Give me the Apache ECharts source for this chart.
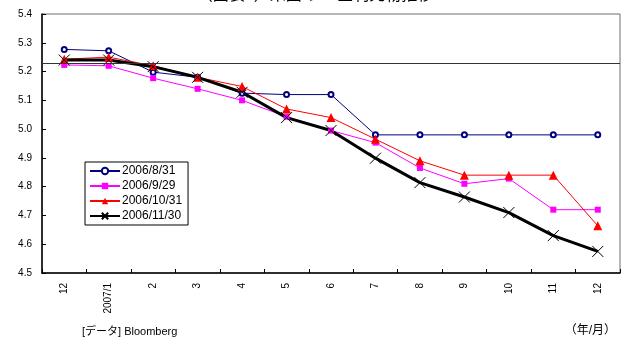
<!DOCTYPE html>
<html>
<head>
<meta charset="utf-8">
<script src="https://cdn.jsdelivr.net/npm/echarts@6/dist/echarts.min.js"></script>
<style>
  html, body { margin: 0; padding: 0; background: #fff; }
  #chart { width: 630px; height: 338px; }
</style>
</head>
<body>
<div id="chart"></div>
<script>
// Fed funds futures curves by observation date (contract month on x)
const months = ['12', '2007/1', '2', '3', '4', '5', '6', '7', '8', '9', '10', '11', '12'];
const curveAug31 = [5.277, 5.272, 5.198, 5.18, 5.125, 5.12, 5.12, 4.98, 4.98, 4.98, 4.98, 4.98, 4.98];
const curveSep29 = [5.223, 5.22, 5.177, 5.14, 5.10, 5.043, 4.995, 4.953, 4.865, 4.81, 4.828, 4.72, 4.72];
const curveOct31 = [5.243, 5.25, 5.22, 5.18, 5.148, 5.07, 5.04, 4.965, 4.89, 4.84, 4.84, 4.84, 4.664];
const curveNov30 = [5.24, 5.24, 5.217, 5.18, 5.128, 5.04, 4.995, 4.899, 4.814, 4.764, 4.71, 4.63, 4.575];
const seriesNames = ['2006/8/31', '2006/9/29', '2006/10/31', '2006/11/30'];
const yTicks = { min: 4.5, max: 5.4, step: 0.1 };
const referenceRate = 5.232;

const latin = '"Liberation Sans", Arial, sans-serif';
const cjk = '"Liberation Sans", "Noto Sans CJK JP", sans-serif';
const crossPath = 'path://M0,0L10,10M10,0L0,10';

const chart = echarts.init(document.getElementById('chart'), null, { renderer: 'canvas' });

chart.setOption({
  animation: false,
  backgroundColor: '#fff',
  grid: { left: 42, right: 10, top: 14, bottom: 65, show: true, borderColor: '#6e6e6e', borderWidth: 1 },
  graphic: [
    { type: 'text', left: 'center', top: -12, style: { text: '（図表3）米国のFF金利先物推移', font: '16px ' + cjk, fill: '#000' } },
    { type: 'text', left: 82, top: 326, style: { text: '[データ] Bloomberg', font: '11px ' + cjk, fill: '#000' } },
    { type: 'text', right: 14, top: 325, style: { text: '（年/月）', font: '12px ' + cjk, fill: '#000' } }
  ],
  legend: {
    orient: 'vertical',
    left: 85,
    top: 162,
    data: seriesNames,
    backgroundColor: '#fff',
    borderColor: '#000',
    borderWidth: 1,
    borderRadius: 0,
    padding: [3, 6, 3, 4],
    itemGap: 3,
    itemWidth: 30,
    itemHeight: 8,
    textStyle: { fontFamily: latin, fontSize: 12, color: '#000', padding: [0, 0, 0, -3] }
  },
  xAxis: {
    type: 'category',
    data: months,
    boundaryGap: true,
    axisLine: { lineStyle: { color: '#000', width: 1.5 } },
    axisTick: { show: true, inside: true, length: 4, lineStyle: { color: '#000' } },
    axisLabel: { rotate: 90, margin: 10, fontFamily: latin, fontSize: 10, color: '#000' },
    splitLine: { show: false }
  },
  yAxis: {
    type: 'value',
    min: yTicks.min,
    max: yTicks.max,
    interval: yTicks.step,
    axisLine: { show: true, lineStyle: { color: '#000', width: 1.5 } },
    axisTick: { show: true, inside: true, length: 4, lineStyle: { color: '#000' } },
    axisLabel: { margin: 10, fontFamily: latin, fontSize: 10, color: '#000', formatter: v => v.toFixed(1) },
    splitLine: { show: false }
  },
  series: [
    {
      name: seriesNames[0], type: 'line', data: curveAug31,
      symbol: 'emptyCircle', symbolSize: 5,
      lineStyle: { color: '#000080', width: 1 },
      itemStyle: { color: '#000080', borderWidth: 1.2 },
      markLine: {
        silent: true, symbol: ['none', 'none'], label: { show: false },
        lineStyle: { color: '#333', width: 1, type: 'solid' },
        data: [{ yAxis: referenceRate }]
      }
    },
    {
      name: seriesNames[1], type: 'line', data: curveSep29,
      symbol: 'rect', symbolSize: 6,
      lineStyle: { color: '#ff00ff', width: 1 },
      itemStyle: { color: '#ff00ff' }
    },
    {
      name: seriesNames[2], type: 'line', data: curveOct31,
      symbol: 'triangle', symbolSize: 9,
      lineStyle: { color: '#ff0000', width: 1 },
      itemStyle: { color: '#ff0000' }
    },
    {
      name: seriesNames[3], type: 'line', data: curveNov30,
      symbol: crossPath, symbolSize: 11,
      lineStyle: { color: '#000', width: 3 },
      itemStyle: { color: '#000', borderColor: '#000', borderWidth: 1 }
    }
  ]
});
</script>
</body>
</html>
